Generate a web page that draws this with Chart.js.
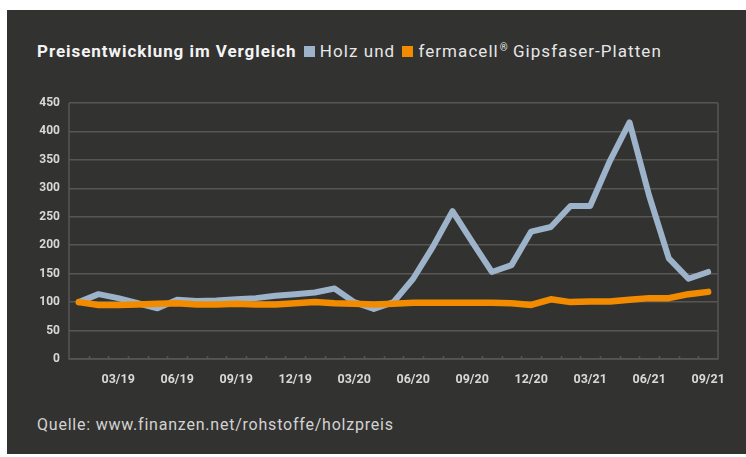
<!DOCTYPE html>
<html>
<head>
<meta charset="utf-8">
<script src="https://cdn.jsdelivr.net/npm/chart.js@4"></script>
<style>
  html, body { margin: 0; padding: 0; background: #fff; }
  body { width: 746px; height: 457px; position: relative; overflow: hidden; font-family: Roboto, "DejaVu Sans", sans-serif; }
  #panel { position: absolute; left: 7px; top: 10px; width: 739px; height: 444px; background: #323230; }
  #title { position: absolute; left: 37px; top: 41px; font-size: 17px; color: #e6e6e6; white-space: nowrap; line-height: 20px; letter-spacing: 1.05px; }
  #title b { color: #f4f4f4; font-weight: 700; letter-spacing: 0.95px; }
  .sw { display: inline-block; width: 11px; height: 11px; margin: 0 5px 0 2px; vertical-align: 0px; }
  #title sup { font-size: 10px; vertical-align: 6px; line-height: 0; letter-spacing: 0; margin-left: 1px; }
  #source { position: absolute; left: 37px; top: 415px; font-size: 16px; color: #d2d2d2; white-space: nowrap; line-height: 20px; letter-spacing: 0.78px; }
  #wrap { position: absolute; left: 0; top: 0; width: 746px; height: 457px; }
</style>
</head>
<body>
<div id="panel"></div>
<div id="title"><b>Preisentwicklung im Vergleich</b> <span class="sw" id="swHolz"></span>Holz und <span class="sw" id="swGips"></span>fermacell<sup>®</sup> Gipsfaser-Platten</div>
<div id="source">Quelle: www.finanzen.net/rohstoffe/holzpreis</div>
<div id="wrap"><canvas id="chart"></canvas></div>
<script>
// monthly, 01/19 .. 09/21
var months = ['01/19','02/19','03/19','04/19','05/19','06/19','07/19','08/19','09/19','10/19','11/19','12/19',
              '01/20','02/20','03/20','04/20','05/20','06/20','07/20','08/20','09/20','10/20','11/20','12/20',
              '01/21','02/21','03/21','04/21','05/21','06/21','07/21','08/21','09/21'];
var shownTicks = ['03/19','06/19','09/19','12/19','03/20','06/20','09/20','12/20','03/21','06/21','09/21'];

var holz = [100, 114, 107, 98, 89, 104, 102, 103, 105, 107, 111, 114,
            117, 124, 100, 88, 100, 141, 197, 260, 206, 153, 165, 224,
            232, 269, 269, 348, 416, 287, 177, 141, 153];
var gips = [100, 95, 95, 96, 97, 98, 96, 96, 97, 96, 96, 98,
            100, 98, 97, 96, 97, 99, 99, 99, 99, 99, 98, 95,
            105, 100, 101, 101, 104, 107, 107, 114, 118];

var colHolz = '#9db3ca';
var colGips = '#f28b00';
var gridColor = '#575654';
var tickColor = '#d8d8d8';

document.getElementById('swHolz').style.background = colHolz;
document.getElementById('swGips').style.background = colGips;

var framePlugin = {
    id: 'frame',
    beforeDatasetsDraw: function (chart) {
        var ctx = chart.ctx, a = chart.chartArea, x = chart.scales.x;
        var step = x.getPixelForValue(1) - x.getPixelForValue(0);
        ctx.save();
        ctx.strokeStyle = gridColor;
        ctx.lineWidth = 1.5;
        ctx.beginPath();
        ctx.moveTo(a.left, a.top);
        ctx.lineTo(a.left, a.bottom);
        ctx.lineTo(a.right, a.bottom);
        ctx.lineTo(a.right, a.top);
        for (var i = 1; i < months.length; i++) {
            var px = Math.round(x.getPixelForValue(i) - step / 2) + 0.5;
            ctx.moveTo(px, a.bottom);
            ctx.lineTo(px, a.bottom - 3);
        }
        ctx.stroke();
        ctx.restore();
    }
};

var ctx = document.getElementById('chart').getContext('2d');
var chart = new Chart(ctx, {
    type: 'line',
    data: {
        labels: months,
        datasets: [{
            label: 'Holz',
            data: holz,
            borderColor: colHolz,
            borderWidth: 6,
            pointRadius: 0,
            borderJoinStyle: 'round',
            borderCapStyle: 'round',
            tension: 0,
            order: 1
        }, {
            label: 'fermacell® Gipsfaser-Platten',
            data: gips,
            borderColor: colGips,
            borderWidth: 6.5,
            pointRadius: 0,
            borderJoinStyle: 'round',
            borderCapStyle: 'round',
            tension: 0,
            order: 0
        }]
    },
    plugins: [framePlugin],
    options: {
        responsive: true,
        maintainAspectRatio: false,
        animation: false,
        layout: { padding: { top: 103, right: 28, left: 0, bottom: 0 } },
        plugins: {
            legend: { display: false },
            tooltip: { enabled: false }
        },
        scales: {
            x: {
                offset: true,
                afterFit: function (scale) { scale.height = 98; },
                grid: { display: false },
                border: { display: false },
                ticks: {
                    autoSkip: false,
                    maxRotation: 0,
                    padding: 5,
                    color: tickColor,
                    font: { family: 'Roboto', size: 12.5, weight: 'bold' },
                    callback: function (value) {
                        var lab = months[value];
                        return shownTicks.indexOf(lab) >= 0 ? lab : '';
                    }
                }
            },
            y: {
                min: 0,
                max: 450,
                afterFit: function (scale) { scale.width = 69; },
                grid: { color: gridColor, lineWidth: 1.5, drawTicks: false },
                border: { display: false },
                ticks: {
                    stepSize: 50,
                    padding: 9,
                    color: tickColor,
                    font: { family: 'Roboto', size: 12, weight: 'bold' }
                }
            }
        }
    }
});
</script>
</body>
</html>
